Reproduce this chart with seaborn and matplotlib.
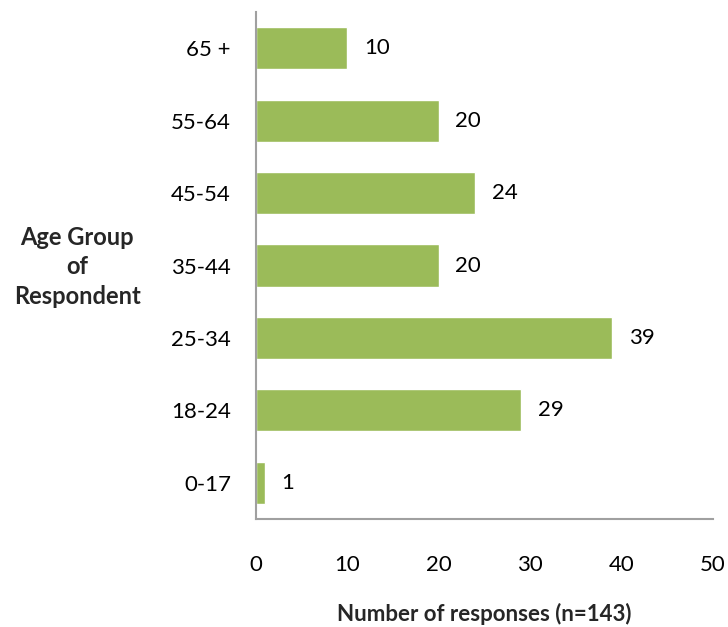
import matplotlib
matplotlib.use("Agg")
import matplotlib.pyplot as plt
import seaborn as sns
import pandas as pd

categories = ["65 +", "55-64", "45-54", "35-44", "25-34", "18-24", "0-17"]
values = [10, 20, 24, 20, 39, 29, 1]
xticks = [0, 10, 20, 30, 40, 50]

sns.set_theme(style="white")
plt.rcParams['font.family'] = ['Lato', 'DejaVu Sans']

df = pd.DataFrame({"age": categories, "count": values})

fig = plt.figure(figsize=(7.28, 6.27), dpi=100)
ax = fig.add_axes([256/728, 1-519/627, 457/728, 507/627])

sns.barplot(data=df, x="count", y="age", order=categories, color="#9BBB59",
            saturation=1, width=0.58, ax=ax, orient="h")

FS = 16
for i, v in enumerate(values):
    ax.text(v + 1.8, i, str(v), va="center", ha="left", fontsize=FS, color="#000000")

ax.set_xlim(0, 50)
ax.set_xticks(xticks)
ax.set_xticklabels([str(t) for t in xticks], fontsize=FS)
ax.tick_params(axis="x", length=0, pad=26)
ax.tick_params(axis="y", length=0, pad=18, labelsize=FS)
for lab in ax.get_yticklabels():
    lab.set_color("#000000")
for lab in ax.get_xticklabels():
    lab.set_color("#000000")

ax.set_xlabel("Number of responses (n=143)", fontsize=FS, fontweight="bold", labelpad=20)
ax.set_ylabel("")
fig.text(77/728, 1-267/627, "Age Group\nof\nRespondent", ha="center", va="center",
         fontsize=FS + 1, fontweight="bold", linespacing=1.35)

for s in ["top", "right"]:
    ax.spines[s].set_visible(False)
for s in ["left", "bottom"]:
    ax.spines[s].set_color("#A0A0A0")
    ax.spines[s].set_linewidth(1.5)

fig.savefig("out.png", dpi=100)
